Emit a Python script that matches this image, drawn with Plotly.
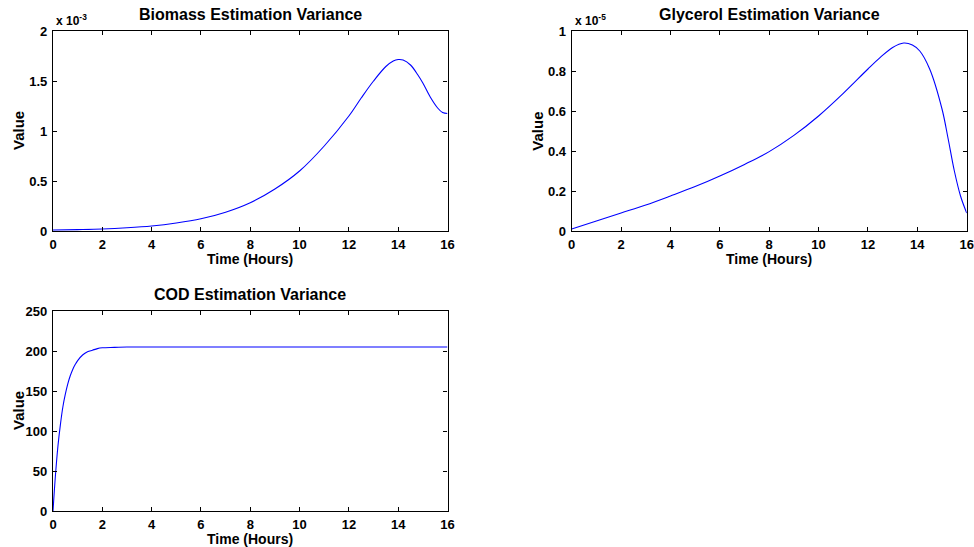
import plotly.graph_objects as go

# Time grid and estimation variances (read from the simulation output)
biomass_t = [0, 1, 2, 3, 4, 5, 6, 7, 8, 9, 10, 11, 12, 12.5, 13, 13.5, 13.8, 14, 14.2, 14.5, 14.8, 15, 15.3, 15.6, 15.8, 16]
biomass_var = [0.01, 0.014, 0.02, 0.032, 0.05, 0.08, 0.122, 0.188, 0.283, 0.42, 0.60, 0.85, 1.15, 1.33, 1.50, 1.645, 1.70, 1.715, 1.71, 1.66, 1.56, 1.48, 1.34, 1.23, 1.185, 1.175]  # x 10^-3

glycerol_t = [0, 1, 2, 3, 4, 5, 6, 7, 8, 9, 10, 11, 12, 12.5, 13, 13.45, 13.8, 14.1, 14.5, 15, 15.25, 15.5, 15.75, 16]
glycerol_var = [0.01, 0.05, 0.09, 0.13, 0.175, 0.222, 0.275, 0.333, 0.397, 0.478, 0.575, 0.688, 0.81, 0.868, 0.918, 0.94, 0.93, 0.90, 0.81, 0.61, 0.46, 0.30, 0.175, 0.09]  # x 10^-5

cod_t = [0, 0.1, 0.2, 0.3, 0.4, 0.5, 0.6, 0.7, 0.8, 0.9, 1.0, 1.2, 1.4, 1.6, 1.8, 2.0, 2.5, 3, 4, 16]
cod_var = [0, 45, 81, 108, 130, 146, 159, 169, 177, 183, 188, 195, 199, 201, 203, 204, 204.5, 205, 205, 205]

titles = ["Biomass Estimation Variance", "Glycerol Estimation Variance", "COD Estimation Variance"]
x_ticks = [0, 2, 4, 6, 8, 10, 12, 14, 16]

FONT = "Liberation Sans, Arial, sans-serif"
W, H = 974, 547

# Panel boxes in pixels: left, right, top, bottom
boxes = [(53, 447.5, 31, 231), (571.7, 966.7, 31, 231), (53, 447.5, 311, 511)]
yranges = [[0, 2], [0, 1], [0, 250]]
ydticks = [0.5, 0.2, 50]
series = [(biomass_t, biomass_var), (glycerol_t, glycerol_var), (cod_t, cod_var)]

fig = go.Figure()
annotations = []
for i, ((l, r, t, b), yr, dt, (xs, ys)) in enumerate(zip(boxes, yranges, ydticks, series)):
    n = "" if i == 0 else str(i + 1)
    fig.add_trace(go.Scatter(x=xs, y=ys, mode="lines",
                             line=dict(color="#0000FF", width=1.1, shape="spline", smoothing=1.0),
                             xaxis="x" + n, yaxis="y" + n, showlegend=False, hoverinfo="skip"))
    axcommon = dict(showline=True, mirror="ticks", linecolor="black", linewidth=1.2,
                    ticks="inside", ticklen=4, tickcolor="black", showgrid=False, zeroline=False,
                    automargin=False,
                    tickfont=dict(family=FONT, size=13, color="black", weight="bold"))
    fig.layout["xaxis" + n] = dict(domain=[l / W, r / W], range=[0, 16], tickvals=x_ticks,
                                   anchor="y" + n, ticklabelstandoff=1, **axcommon)
    fig.layout["yaxis" + n] = dict(domain=[(H - b) / H, (H - t) / H], range=yr, dtick=dt, tick0=0,
                                   anchor="x" + n, ticklabelstandoff=2, **axcommon)
    cx = (l + r) / 2
    annotations.append(dict(text="<b>%s</b>" % titles[i], x=cx / W, y=(H - t + 17) / H,
                            xref="paper", yref="paper", xanchor="center", yanchor="middle",
                            showarrow=False, font=dict(family=FONT, size=16, color="black")))
    annotations.append(dict(text="<b>Time (Hours)</b>", x=cx / W, y=(H - b - 28) / H,
                            xref="paper", yref="paper", xanchor="center", yanchor="middle",
                            showarrow=False, font=dict(family=FONT, size=14, color="black")))
    annotations.append(dict(text="<b>Value</b>", x=(l - 35) / W, y=(H - (t + b) / 2) / H,
                            xref="paper", yref="paper", xanchor="center", yanchor="middle",
                            textangle=-90, showarrow=False, font=dict(family=FONT, size=15, color="black")))

# Scale factors shown above the first two panels
for (l, r, t, b), exp in zip(boxes[:2], ["-3", "-5"]):
    annotations.append(dict(text="<b>x 10<sup>%s</sup></b>" % exp, x=(l + 1) / W, y=(H - t + 1) / H,
                            xref="paper", yref="paper", xanchor="left", yanchor="bottom",
                            showarrow=False, font=dict(family=FONT, size=12, color="black")))

fig.update_layout(width=W, height=H, margin=dict(l=0, r=0, t=0, b=0),
                  plot_bgcolor="white", paper_bgcolor="white", annotations=annotations)

fig.write_html("out.html")
